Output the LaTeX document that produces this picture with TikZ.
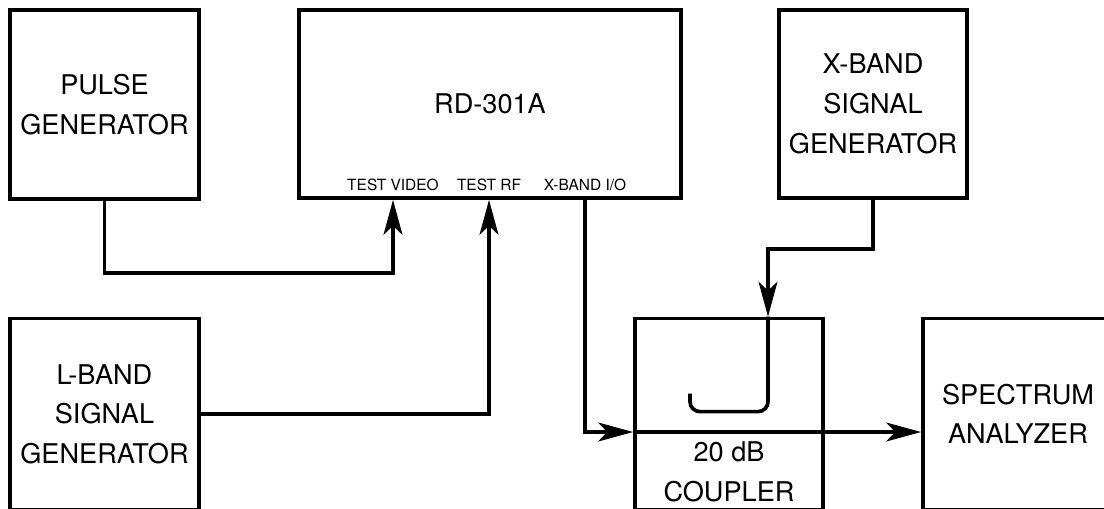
\documentclass[tikz,border=0pt]{standalone}
\usepackage{fontspec}
\setmainfont{TeX Gyre Heros}
\usepackage{tikz}
\usetikzlibrary{arrows.meta}

\begin{document}
\begin{tikzpicture}[
    x=0.025cm, y=-0.025cm,
    >={Stealth[length=0.87cm, width=0.47cm, inset=0.22cm]},
    line width=2.6pt,
    box/.style={draw, rectangle, inner sep=0pt, align=center,
        font=\fontsize{19.3}{28.2}\selectfont},
    port/.style={anchor=base, inner sep=0pt, font=\fontsize{11}{13}\selectfont}
]
\useasboundingbox (0,0) rectangle (1104,508);

%-------------------------
% Boxes
%-------------------------
\node[box, minimum width=4.725cm, minimum height=4.725cm] (pulse) at (104.5,104.5) {PULSE\\GENERATOR};
\node[box, minimum width=9.55cm, minimum height=4.7cm] (rd) at (490,104) {RD-301A};
\node[box, minimum width=4.7cm, minimum height=4.7cm] (xgen) at (873,104) {X-BAND\\SIGNAL\\GENERATOR};
\node[box, minimum width=4.725cm, minimum height=4.775cm] (lgen) at (104.5,414) {L-BAND\\SIGNAL\\GENERATOR};
\node[box, minimum width=4.7cm, minimum height=4.775cm] (coupler) at (729,414) {};
\node[box, minimum width=4.75cm, minimum height=4.775cm] (spec) at (1018,414) {SPECTRUM\\ANALYZER};

% Coupler label
\node[align=center, inner sep=0pt, font=\fontsize{19.3}{28.2}\selectfont] (cpltext) at (729,472) {20 dB\\COUPLER};

%-------------------------
% Ports of RD-301A
%-------------------------
\node[port] (video) at (393,190) {TEST VIDEO};
\node[port] (rf) at (489,190) {TEST RF};
\node[port] (xio) at (585,190) {X-BAND I/O};

%-------------------------
% Coupler points
%-------------------------
\path (coupler.west) ++(0,18) coordinate (cin);
\path (spec.west) ++(0,18) coordinate (sin);
\path (coupler.north) ++(39,0) coordinate (ctop);

%-------------------------
% Connections
%-------------------------
\draw[->] (pulse.south) -- ++(0,72) -| (video |- rd.south);
\draw[->] (lgen.east) -| (rf |- rd.south);
\draw[->] (xio |- rd.south) |- (cin);
\draw[->] (cin) -- (sin);
\draw[->] (xgen.south) -- ++(0,49) -| (ctop);

% Coupled arm
\draw[rounded corners=0.25cm] (ctop) -- ++(0,95) -- ++(-78,0) -- ++(0,-18);
\end{tikzpicture}
\end{document}
